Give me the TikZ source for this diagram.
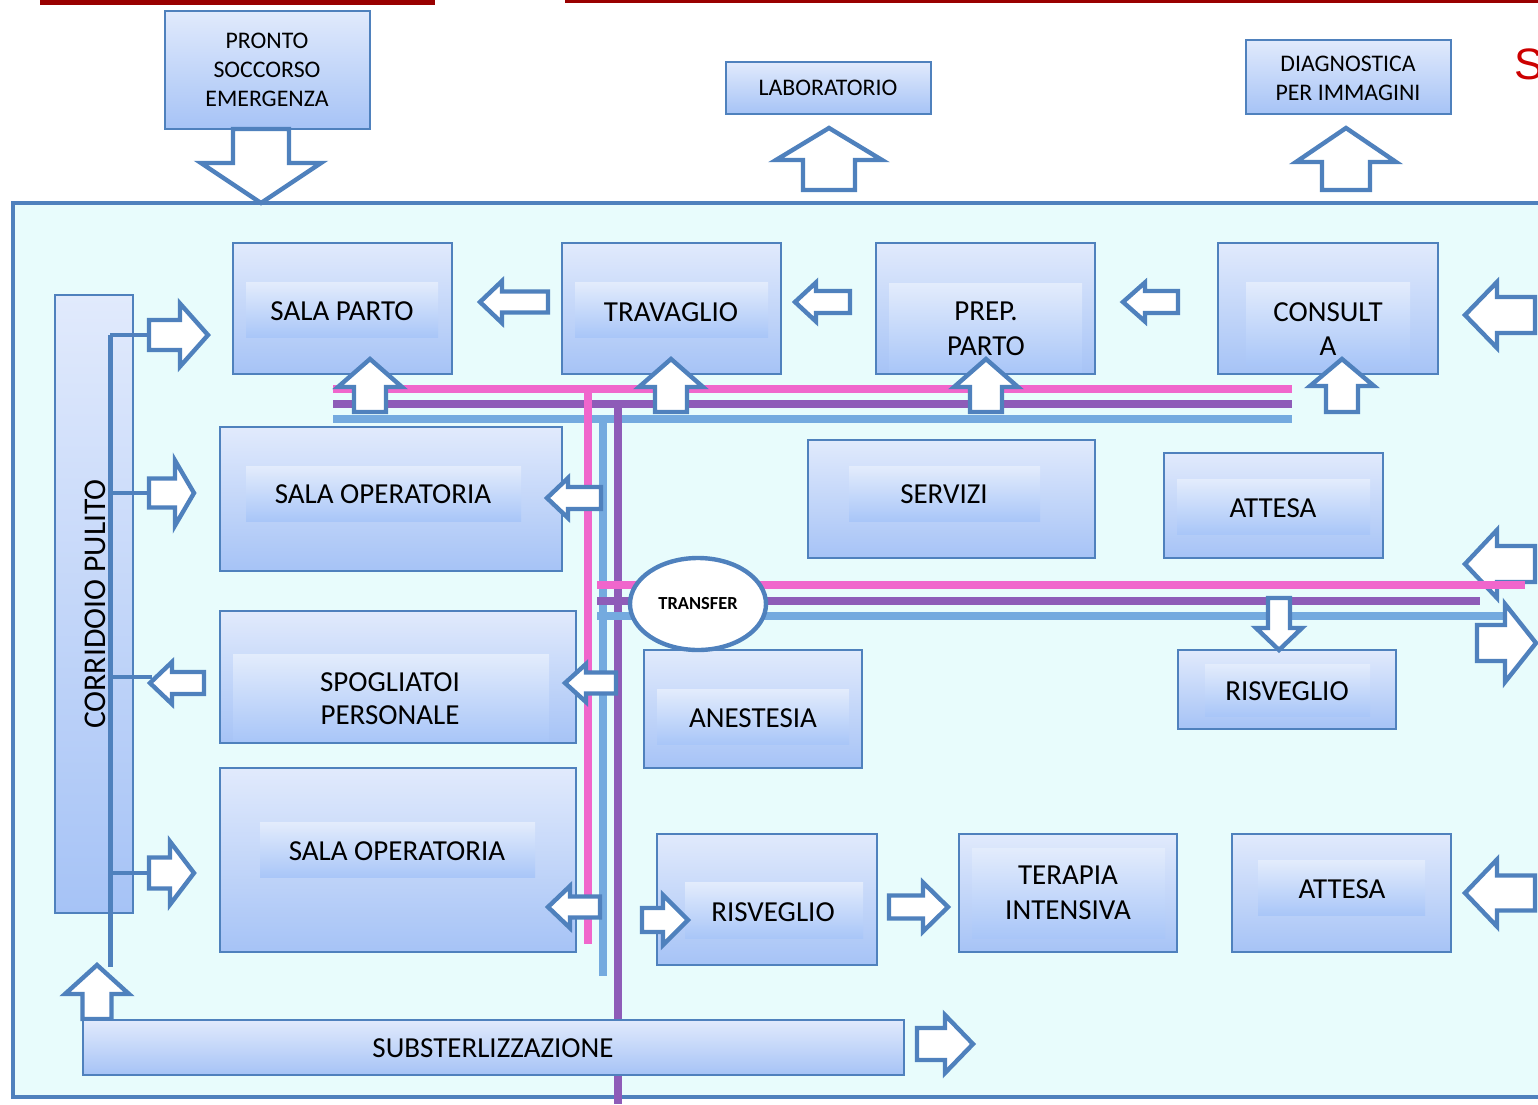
\documentclass[tikz,border=0pt]{standalone}
\usepackage{fontspec}
\setmainfont{Carlito}
\newfontfamily\headsans{Liberation Sans}
\usetikzlibrary{shapes.geometric}

\definecolor{bord}{HTML}{4F81BD}
\definecolor{boxtop}{HTML}{E1EAFC}
\definecolor{boxbot}{HTML}{A6C3F6}
\definecolor{bandtop}{HTML}{E3ECFC}
\definecolor{bandbot}{HTML}{A9C6F8}
\definecolor{floor}{HTML}{E8FCFC}
\definecolor{pinkband}{HTML}{F066CC}
\definecolor{purpband}{HTML}{8E5CB8}
\definecolor{blueband}{HTML}{74AADF}
\definecolor{darkred}{HTML}{990000}
\definecolor{redS}{HTML}{CC0000}

% horizontal block arrow: shaft start, head base, tip, centre y, shaft half, head half
\newcommand{\blkH}[6]{\draw[blockarrow] (#1,#4-#5) -- (#2,#4-#5) -- (#2,#4-#6) -- (#3,#4) -- (#2,#4+#6) -- (#2,#4+#5) -- (#1,#4+#5) -- cycle;}
% vertical block arrow: shaft start, head base, tip, centre x, shaft half, head half
\newcommand{\blkV}[6]{\draw[blockarrow] (#4-#5,#1) -- (#4-#5,#2) -- (#4-#6,#2) -- (#4,#3) -- (#4+#6,#2) -- (#4+#5,#2) -- (#4+#5,#1) -- cycle;}
% room: outer box corners, label band corners
\newcommand{\roombox}[8]{%
  \path[room] (#1,#2) rectangle (#3,#4);
  \path[labelband] (#5,#6) rectangle (#7,#8);}

\tikzset{
  room/.style={draw=bord, line width=1pt, top color=boxtop, bottom color=boxbot},
  labelband/.style={top color=bandtop, bottom color=bandbot},
  blockarrow/.style={draw=bord, fill=white, line width=2.2pt, line join=miter},
  lbl/.style={font=\fontsize{14.5}{17.4}\selectfont, align=center, inner sep=0pt},
  smalllbl/.style={font=\fontsize{11.9}{14.5}\selectfont, align=center, inner sep=0pt},
  pinkline/.style={draw=pinkband, line width=4pt},
  purpline/.style={draw=purpband, line width=4pt},
  blueline/.style={draw=blueband, line width=4pt},
  corr/.style={draw=bord, line width=2.5pt},
  corrbranch/.style={draw=bord, line width=2pt},
}

\begin{document}
\begin{tikzpicture}[x=0.5pt,y=-0.5pt]
\useasboundingbox (0,0) rectangle (1538,1104);
\clip (0,0) rectangle (1538,1104);
\fill[white] (0,0) rectangle (1538,1104);

% header strip and clipped title letter
\fill[darkred] (40,0) rectangle (435,5);
\fill[darkred] (565,0) rectangle (1538,3);
\node[anchor=west, inner sep=0pt, text=redS, font=\headsans\fontsize{22}{26}\selectfont] (hdr) at (1514,64) {S};

% external services
\path[room] (165,11) rectangle (370,129);
\node[smalllbl] (ps) at (267,70) {PRONTO\\SOCCORSO\\EMERGENZA};
\path[room] (726,62) rectangle (931,114);
\node[smalllbl] (lab) at (828,88) {LABORATORIO};
\path[room] (1246,40) rectangle (1451,114);
\node[smalllbl] (diag) at (1348,78) {DIAGNOSTICA\\PER IMMAGINI};

% department outline
\draw[bord, line width=2pt, fill=floor] (13,203) rectangle (1560,1097);

\blkV{129}{163}{203}{261}{28}{60}
\blkV{190}{160}{128}{829}{26}{53}
\blkV{190}{162}{128}{1346}{24}{50}

% rooms
\roombox{233}{243}{452}{374}{246}{282}{438}{337}
\node[lbl] (sp) at (342,311) {SALA PARTO};
\roombox{562}{243}{781}{374}{575}{282}{768}{337}
\node[lbl] (trav) at (671,312) {TRAVAGLIO};
\roombox{876}{243}{1095}{374}{889}{283}{1082}{372}
\node[lbl] (prep) at (986,329) {PREP.\\PARTO};
\roombox{1218}{243}{1438}{374}{1246}{282}{1410}{365}
\node[lbl] (cons) at (1328,329) {CONSULT\\A};

\roombox{220}{427}{562}{571}{246}{466}{521}{521}
\node[lbl] (so1) at (383,494) {SALA OPERATORIA};
\roombox{808}{440}{1095}{558}{849}{466}{1040}{521}
\node[lbl] (serv) at (944,494) {SERVIZI};
\roombox{1164}{453}{1383}{558}{1177}{479}{1370}{534}
\node[lbl] (att1) at (1273,508) {ATTESA};

\roombox{220}{611}{576}{743}{233}{654}{549}{741}
\node[lbl, font=\fontsize{14.5}{16.5}\selectfont] (spog) at (390,699) {SPOGLIATOI\\PERSONALE};
\roombox{644}{650}{862}{768}{657}{689}{849}{744}
\node[lbl] (anest) at (753,718) {ANESTESIA};
\roombox{1178}{650}{1396}{729}{1205}{664}{1370}{716}
\node[lbl] (ris1) at (1287,691) {RISVEGLIO};

\roombox{220}{768}{576}{952}{260}{822}{535}{877}
\node[lbl] (so2) at (397,851) {SALA OPERATORIA};
\roombox{657}{834}{877}{965}{685}{882}{863}{938}
\node[lbl] (ris2) at (773,912) {RISVEGLIO};
\roombox{959}{834}{1177}{952}{972}{848}{1165}{938}
\node[lbl] (ti) at (1068,893) {TERAPIA\\INTENSIVA};
\roombox{1232}{834}{1451}{952}{1258}{860}{1425}{915}
\node[lbl] (att2) at (1342,889) {ATTESA};

% clean corridor
\path[room] (55,295) rectangle (133,913);
\node[lbl, rotate=90, font=\fontsize{15.8}{18}\selectfont] (corr) at (95,604) {CORRIDOIO PULITO};
\coordinate (ctop) at (110,335);
\coordinate (cbot) at (110,967);
\draw[corr] (ctop) -- (cbot);
\coordinate (b1) at (150,335);
\coordinate (b2) at (150,493);
\coordinate (b3) at (152,677);
\coordinate (b4) at (150,873);
\draw[corrbranch] (ctop) -- (b1);
\draw[corrbranch] (110,493) -- (b2);
\draw[corrbranch] (110,677) -- (b3);
\draw[corrbranch] (110,873) -- (b4);

% supply lines
\draw[pinkline] (333,389) -- (1292,389);
\draw[purpline] (333,404) -- (1292,404);
\draw[blueline] (333,419) -- (1292,419);
\draw[pinkline] (588,389) -- (588,944);
\draw[blueline] (603,419) -- (603,976);
\draw[purpline] (618,404) -- (618,1104);

% right edge arrows
\blkH{1535}{1497}{1465}{315}{18}{33}
\blkH{1535}{1497}{1465}{564}{18}{34}
\blkH{1535}{1497}{1465}{893}{17.5}{33.5}

\draw[pinkline] (597,585) -- (1525,585);
\draw[purpline] (597,601) -- (1480,601);
\draw[blueline] (597,616) -- (1505,616);

\blkH{1477}{1505}{1536}{643}{18}{39}

% flow arrows
\blkH{548}{502}{480}{302}{10.5}{21}
\blkH{850}{816}{795}{302}{11}{19.5}
\blkH{1178}{1145}{1123}{302}{11}{19.5}

\blkV{412}{387}{359}{370}{16}{32}
\blkV{412}{387}{359}{671}{16}{32}
\blkV{412}{387}{359}{986}{16}{32}
\blkV{412}{386}{359}{1342}{16}{32}

\blkH{601}{568}{547}{498}{11}{20}
\blkH{616}{586}{565}{683}{10.5}{19}
\blkH{600}{570}{548}{907}{10.5}{21}

\blkV{598}{628}{650}{1279}{11}{23}

\blkH{642}{663}{688}{920}{12}{25}
\blkH{889}{923}{948}{907}{11.5}{24.5}

\blkH{149}{180}{208}{335}{15}{31.5}
\blkH{149}{175}{194}{493}{14.5}{32.5}
\blkH{204}{172}{150}{683}{11}{21}
\blkH{149}{170}{194}{873}{15.5}{31.5}

\blkV{1019}{994}{965}{97}{14.5}{32}

% transfer hub
\node[ellipse, draw=bord, line width=2.2pt, fill=white, minimum width=68pt, minimum height=46pt, inner sep=0pt, font=\bfseries\fontsize{9.2}{11}\selectfont] (transfer) at (698,604) {TRANSFER};

% sterilisation
\path[room] (83,1020) rectangle (904,1075);
\node[lbl] (sub) at (493,1048) {SUBSTERLIZZAZIONE};
\blkH{917}{945}{973}{1044}{16}{29}
\end{tikzpicture}
\end{document}
